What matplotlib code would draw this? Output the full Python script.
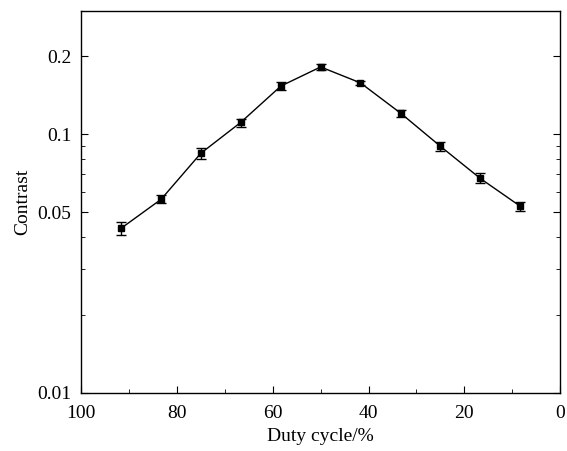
import numpy as np
import matplotlib.pyplot as plt
from matplotlib.ticker import FixedLocator, NullFormatter

# Data
duty = [91.7, 83.3, 75.0, 66.7, 58.3, 50.0, 41.7, 33.3, 25.0, 16.7, 8.3]
contrast = [0.0432, 0.0560, 0.0844, 0.111, 0.1535, 0.182, 0.158, 0.1206, 0.0898, 0.0675, 0.0526]
err = [0.0026, 0.0020, 0.0040, 0.0040, 0.0050, 0.0050, 0.0030, 0.0040, 0.0035, 0.0030, 0.0020]

yticks = [0.01, 0.05, 0.1, 0.2]
ytick_labels = ['0.01', '0.05', '0.1', '0.2']
xticks = [100, 80, 60, 40, 20, 0]

plt.rcParams['font.family'] = ['Liberation Serif', 'DejaVu Serif']

fig = plt.figure(figsize=(5.67, 4.51), dpi=100)
ax = fig.add_axes([0.143, 0.129, 0.845, 0.847])

ax.errorbar(duty, contrast, yerr=err, fmt='s-', color='black', ms=5,
            lw=1, elinewidth=1, capsize=3.5, capthick=1)

ax.set_yscale('log')
ax.set_xlim(100, 0)
ax.set_ylim(0.01, 0.3)

ax.set_xticks(xticks)
ax.xaxis.set_minor_locator(FixedLocator([90, 70, 50, 30, 10]))
ax.set_yticks(yticks)
ax.set_yticklabels(ytick_labels)
ax.yaxis.set_minor_locator(FixedLocator([0.02, 0.03, 0.04, 0.06, 0.07, 0.08, 0.09, 0.3]))
ax.yaxis.set_minor_formatter(NullFormatter())

ax.tick_params(which='both', direction='in', labelsize=14, right=True, top=False)
ax.tick_params(which='major', length=5)
ax.tick_params(which='minor', length=3)
ax.tick_params(axis='x', pad=9)
ax.tick_params(axis='y', pad=7)

for s in ax.spines.values():
    s.set_linewidth(1)

ax.set_xlabel('Duty cycle/%', fontsize=14, labelpad=4)
ax.set_ylabel('Contrast', fontsize=14, labelpad=4)

fig.savefig('out.png', dpi=100)
